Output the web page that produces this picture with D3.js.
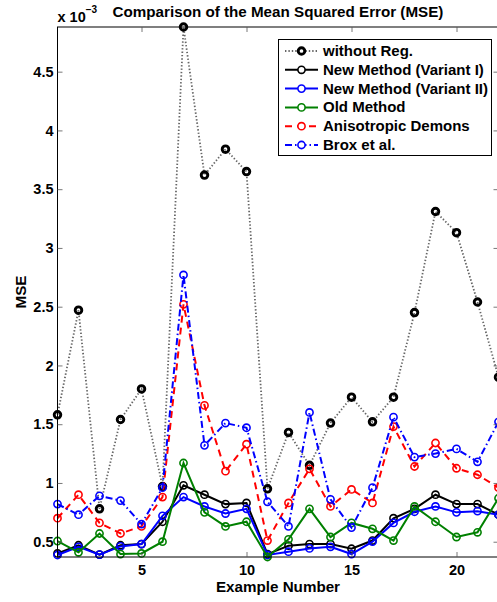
<!DOCTYPE html>
<html>
<head>
<meta charset="utf-8">
<script src="https://cdn.jsdelivr.net/npm/d3@7"></script>
<style>
  body { margin: 0; background: #fff; }
  svg { display: block; font-family: "Liberation Sans", Arial, sans-serif; font-weight: bold; }
</style>
</head>
<body>
<div id="chart"></div>
<script>
// values are in units of 1e-3
var examples = [1,2,3,4,5,6,7,8,9,10,11,12,13,14,15,16,17,18,19,20,21,22];
var withoutReg = [1.58,2.47,0.78,1.54,1.80,0.97,4.88,3.62,3.84,3.65,0.95,1.43,1.15,1.51,1.73,1.52,1.73,2.45,3.31,3.13,2.54,1.90];
var variant1 = [0.40,0.47,0.39,0.47,0.48,0.67,0.98,0.90,0.82,0.83,0.395,0.466,0.48,0.48,0.44,0.51,0.70,0.78,0.90,0.82,0.82,0.73];
var variant2 = [0.387,0.457,0.39,0.46,0.48,0.72,0.88,0.80,0.74,0.78,0.387,0.415,0.443,0.457,0.395,0.50,0.66,0.755,0.80,0.75,0.76,0.73];
var oldMethod = [0.506,0.41,0.57,0.395,0.40,0.50,1.17,0.75,0.63,0.67,0.37,0.52,0.78,0.54,0.66,0.61,0.51,0.80,0.67,0.54,0.58,0.87];
var anisoDemons = [0.70,0.90,0.66,0.57,0.63,0.88,2.52,1.66,1.10,1.33,0.51,0.83,1.12,0.80,0.945,0.83,1.48,1.14,1.34,1.125,1.07,0.96];
var brox = [0.82,0.73,0.89,0.85,0.65,0.96,2.77,1.32,1.51,1.47,0.84,0.63,1.60,0.86,0.62,0.96,1.56,1.22,1.25,1.29,1.18,1.52];
var xTicks = [5,10,15,20];
var yTicks = [0.5,1,1.5,2,2.5,3,3.5,4,4.5];

var series = [
  {name: "without Reg.", values: withoutReg, color: "#000", dash: "1.4,2", lw: 1.8, lineColor: "#666", ms: 3.3, mw: 2.9},
  {name: "New Method (Variant I)", values: variant1, color: "#000", dash: null, lw: 2, ms: 3.6, mw: 1.6},
  {name: "New Method (Variant II)", values: variant2, color: "#0000ff", dash: null, lw: 2, ms: 3.6, mw: 1.6},
  {name: "Old Method", values: oldMethod, color: "#008000", dash: null, lw: 2, ms: 3.6, mw: 1.6},
  {name: "Anisotropic Demons", values: anisoDemons, color: "#ff0000", dash: "7,5", lw: 2, ms: 3.6, mw: 1.6},
  {name: "Brox et al.", values: brox, color: "#0000ff", dash: "7,3,1.5,3", lw: 2, ms: 3.6, mw: 1.6}
];

var W = 497, H = 602;
var mLeft = 57.5, mRight = 498.5, mTop = 27, mBottom = 557;

var svg = d3.select("#chart").append("svg").attr("width", W).attr("height", H);

var x = d3.scaleLinear().domain([1, 22]).range([mLeft, mRight]);
var y = d3.scaleLinear().domain([0.37, 4.88]).range([mBottom, mTop]);

// series
series.forEach(function(s) {
  var line = d3.line().x(function(d, i) { return x(examples[i]); }).y(function(d) { return y(d); });
  svg.append("path")
    .datum(s.values)
    .attr("d", line)
    .attr("fill", "none")
    .attr("stroke", s.lineColor || s.color)
    .attr("stroke-width", s.lw)
    .attr("stroke-dasharray", s.dash);
  svg.append("g").selectAll("circle")
    .data(s.values)
    .enter().append("circle")
    .attr("cx", function(d, i) { return x(examples[i]); })
    .attr("cy", function(d) { return y(d); })
    .attr("r", s.ms)
    .attr("fill", "none")
    .attr("stroke", s.color)
    .attr("stroke-width", s.mw);
});

// axes box
svg.append("rect").attr("x", mLeft).attr("y", mTop).attr("width", mRight - mLeft).attr("height", mBottom - mTop)
  .attr("fill", "none").attr("stroke", "#000").attr("stroke-width", 1);

var axB = svg.append("g").attr("transform", "translate(0," + mBottom + ")")
  .call(d3.axisBottom(x).tickValues(xTicks).tickSizeInner(-5).tickSizeOuter(0).tickPadding(8));
var axT = svg.append("g").attr("transform", "translate(0," + mTop + ")")
  .call(d3.axisTop(x).tickValues(xTicks).tickSizeInner(-5).tickSizeOuter(0).tickFormat(""));
var axL = svg.append("g").attr("transform", "translate(" + mLeft + ",0)")
  .call(d3.axisLeft(y).tickValues(yTicks).tickSizeInner(-5).tickSizeOuter(0).tickPadding(4).tickFormat(d3.format("")));
var axR = svg.append("g").attr("transform", "translate(" + mRight + ",0)")
  .call(d3.axisRight(y).tickValues(yTicks).tickSizeInner(-5).tickSizeOuter(0).tickFormat(""));
[axB, axT, axL, axR].forEach(function(a) {
  a.select(".domain").remove();
  a.selectAll("line").attr("stroke", "#555").attr("stroke-width", 0.8);
  a.selectAll("text").attr("font-size", 14.5).attr("font-weight", "bold").attr("fill", "#000")
    .attr("font-family", "Liberation Sans, Arial, sans-serif");
});

// multiplier
var mult = svg.append("text").attr("x", mLeft).attr("y", 22).attr("font-size", 14.5);
mult.append("tspan").text("x 10");
mult.append("tspan").attr("dy", -9).attr("font-size", 10).text("\u22123");

// title and labels
svg.append("text").attr("x", (mLeft + mRight) / 2).attr("y", 17).attr("text-anchor", "middle")
  .attr("font-size", 15.2).text("Comparison of the Mean Squared Error (MSE)");
svg.append("text").attr("x", (mLeft + mRight) / 2).attr("y", 592).attr("text-anchor", "middle")
  .attr("font-size", 15.2).text("Example Number");
svg.append("text").attr("transform", "translate(26," + ((mTop + mBottom) / 2) + ") rotate(-90)")
  .attr("text-anchor", "middle").attr("font-size", 15.2).text("MSE");

// legend
var lg = svg.append("g");
lg.append("rect").attr("x", 278.5).attr("y", 39.5).attr("width", 213).attr("height", 116)
  .attr("fill", "#fff").attr("stroke", "#000").attr("stroke-width", 1);
series.forEach(function(s, i) {
  var ly = 51 + i * 18.8;
  lg.append("line").attr("x1", 285).attr("x2", 318).attr("y1", ly).attr("y2", ly)
    .attr("stroke", s.lineColor || s.color).attr("stroke-width", s.lw).attr("stroke-dasharray", s.dash);
  lg.append("circle").attr("cx", 301.5).attr("cy", ly).attr("r", s.ms)
    .attr("fill", "#fff").attr("stroke", s.color).attr("stroke-width", s.mw);
  lg.append("text").attr("x", 323).attr("y", ly + 5).attr("font-size", 15).text(s.name);
});
</script>
</body>
</html>
